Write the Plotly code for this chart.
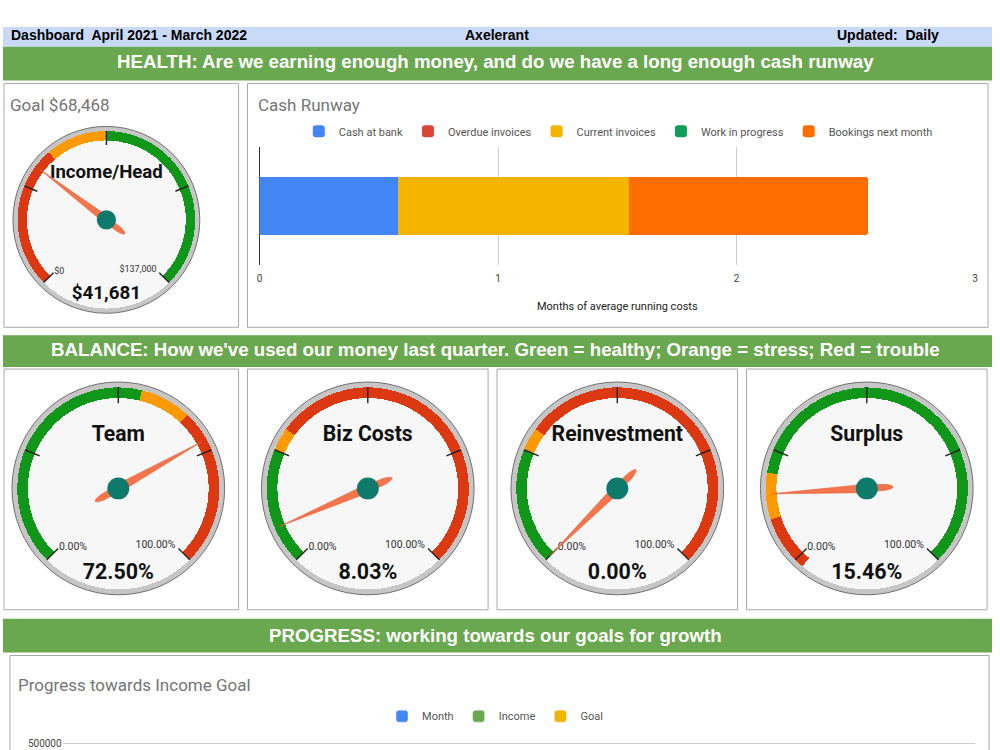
import plotly.graph_objects as go

# ---------------- data ----------------
header_left = "Dashboard\u00a0 April 2021 - March 2022"
header_mid = "Axelerant"
header_right = "Updated:\u00a0 Daily"
banner_titles = [
    "HEALTH: Are we earning enough money, and do we have a long enough cash runway",
    "BALANCE: How we've used our money last quarter. Green = healthy; Orange = stress; Red = trouble",
    "PROGRESS: working towards our goals for growth",
]

# Income / Head gauge
income_goal = 68468
income_value = 41681
income_min = 0
income_max = 137000
income_red = [0, 48000]
income_yellow = [48000, 68468]
income_green = [68468, 137000]

# Balance gauges (percent)
gauge_names = ["Team", "Biz Costs", "Reinvestment", "Surplus"]
gauge_values = [72.50, 8.03, 0.00, 15.46]
gauge_min = 0
gauge_max = 100
gauge_green = [[0, 55], [0, 25], [0, 25], [20, 100]]
gauge_yellow = [[55, 66], [25, 30], [25, 30], [10, 20]]
gauge_red = [[66, 100], [30, 100], [30, 100], [-2, 10]]

# Cash runway (months of average running costs)
runway_series = ["Cash at bank", "Overdue invoices", "Current invoices",
                 "Work in progress", "Bookings next month"]
runway_values = [0.58, 0.0, 0.97, 0.0, 1.00]
runway_colors = ["#4285f4", "#db4437", "#f4b400", "#0f9d58", "#ff6d00"]
runway_ticks = [0, 1, 2, 3]

# Progress towards income goal (only the header of this chart is visible,
# so its series carry no visible points)
progress_series = ["Month", "Income", "Goal"]
progress_colors = ["#4285f4", "#6aa84f", "#f1b400"]
progress_x = [None]
progress_y = [None]
progress_ticks = [500000]

# ---------------- styles ----------------
W, H = 1000, 750
GREEN_BAND = "#109618"
YELLOW_BAND = "#ff9900"
RED_BAND = "#dc3912"
FONT = "Roboto, Arial, sans-serif"
ARIAL = "Liberation Sans, Arial, sans-serif"


def py(y):
    return (H - y) / H


def px(x):
    return x / W


fig = go.Figure()
shapes = []
annotations = []

# header band and banners
shapes.append(dict(type="rect", xref="paper", yref="paper", x0=0, x1=px(995),
                   y0=py(43), y1=py(23), fillcolor="#c9daf8", line_width=0, layer="below"))
for (y0, y1) in [(43, 77), (333, 365), (618, 652)]:
    shapes.append(dict(type="rect", xref="paper", yref="paper", x0=0, x1=px(995),
                       y0=py(y1), y1=py(y0), fillcolor="#6aa84f", line_width=0, layer="below"))

# panels
panels = [(1, 80, 237, 325), (246, 80, 991, 325),
          (1, 367, 237, 609), (246, 367, 488, 609), (497, 367, 739, 609), (748, 367, 990, 609),
          (7, 655, 992, 760)]
for (x0, y0, x1, y1) in panels:
    shapes.append(dict(type="rect", xref="paper", yref="paper", x0=px(x0), x1=px(x1),
                       y0=py(y1), y1=py(y0), fillcolor="white",
                       line=dict(color="#a8a8a8", width=1), layer="below"))

annotations += [
    dict(text=header_left, x=px(6), y=py(31), xanchor="left"),
    dict(text=header_mid, x=px(497), y=py(31), xanchor="center"),
    dict(text=header_right, x=px(944), y=py(31), xanchor="right"),
]
for a in annotations:
    a.update(xref="paper", yref="paper", yanchor="middle", showarrow=False,
             font=dict(family=ARIAL, size=14, color="#000", weight="bold"))

for t, y in zip(banner_titles, [58, 347.5, 634.5]):
    annotations.append(dict(text=t, x=px(495), y=py(y), xref="paper", yref="paper",
                            xanchor="center", yanchor="middle", showarrow=False,
                            font=dict(family=ARIAL, size=18.7, color="white", weight="bold")))

# panel titles
for t, x, y in [(f"Goal ${income_goal:,}", 5, 102), ("Cash Runway", 255, 102),
                ("Progress towards Income Goal", 13, 685)]:
    annotations.append(dict(text=t, x=px(x), y=py(y), xref="paper", yref="paper",
                            xanchor="left", yanchor="middle", showarrow=False,
                            font=dict(family=FONT, size=17, color="#757575")))


# ---------------- gauges ----------------
def add_gauge(pname, cx, cy, R, vmin, vmax, green, yellow, red, value,
              name, value_text, min_text, max_text, lab_size):
    def th(v):
        return (v - vmin) / (vmax - vmin) * 270.0

    # rim
    fig.add_trace(go.Barpolar(r=[0.05], base=[0.95], theta=[180], width=[360],
                              marker=dict(color="#c6c6c6", line_width=0),
                              subplot=pname, showlegend=False, hoverinfo="skip"))
    # coloured bands
    thetas, widths, colors = [], [], []
    for rng, col in [(green, GREEN_BAND), (yellow, YELLOW_BAND), (red, RED_BAND)]:
        a, b = th(rng[0]), th(rng[1])
        thetas.append((a + b) / 2)
        widths.append(b - a)
        colors.append(col)
    fig.add_trace(go.Barpolar(r=[0.10] * 3, base=[0.85] * 3, theta=thetas, width=widths,
                              marker=dict(color=colors, line_width=0),
                              subplot=pname, showlegend=False, hoverinfo="skip"))
    # major ticks
    rr, tt = [], []
    for k in range(5):
        v = vmin + (vmax - vmin) * k / 4
        rr += [0.80, 0.95, None]
        tt += [th(v), th(v), None]
    fig.add_trace(go.Scatterpolar(r=rr, theta=tt, mode="lines",
                                  line=dict(color="#222", width=1.4),
                                  subplot=pname, showlegend=False, hoverinfo="skip"))
    # labels
    fig.add_trace(go.Scatterpolar(r=[0.79], theta=[0], mode="text", text=[min_text],
                                  textposition="middle right",
                                  textfont=dict(family=FONT, size=lab_size, color="#333"),
                                  subplot=pname, showlegend=False, hoverinfo="skip"))
    fig.add_trace(go.Scatterpolar(r=[0.76], theta=[270], mode="text", text=[max_text],
                                  textposition="middle left",
                                  textfont=dict(family=FONT, size=lab_size, color="#333"),
                                  subplot=pname, showlegend=False, hoverinfo="skip"))
    fig.add_trace(go.Scatterpolar(r=[0.50], theta=[135], mode="text", text=[name],
                                  textposition="middle center",
                                  textfont=dict(family=FONT, size=0.198 * R, color="#111",
                                                weight="bold"),
                                  subplot=pname, showlegend=False, hoverinfo="skip"))
    fig.add_trace(go.Scatterpolar(r=[0.80], theta=[315], mode="text", text=[value_text],
                                  textposition="middle center",
                                  textfont=dict(family=FONT, size=0.20 * R, color="#111",
                                                weight="bold"),
                                  subplot=pname, showlegend=False, hoverinfo="skip"))
    # needle
    t = th(value)
    shape = [(0.90, 0), (0.04, 90), (0.10, 162), (0.18, 171), (0.23, 176), (0.25, 180),
             (0.23, 184), (0.18, 189), (0.10, 198), (0.04, 270), (0.90, 0)]
    fig.add_trace(go.Scatterpolar(r=[p[0] for p in shape], theta=[t + p[1] for p in shape],
                                  mode="lines", fill="toself", fillcolor="#f4754c",
                                  line=dict(color="#e0603a", width=0.6),
                                  subplot=pname, showlegend=False, hoverinfo="skip"))
    # hub
    fig.add_trace(go.Scatterpolar(r=[0], theta=[0], mode="markers",
                                  marker=dict(size=0.205 * R, color="#0d7a6c", line_width=0),
                                  subplot=pname, showlegend=False, hoverinfo="skip"))

    fig.layout[pname] = dict(
        domain=dict(x=[px(cx - R), px(cx + R)], y=[py(cy + R), py(cy - R)]),
        bgcolor="#f7f7f7", barmode="overlay",
        radialaxis=dict(visible=False, range=[0, 1]),
        angularaxis=dict(rotation=225, direction="clockwise", showgrid=False,
                         showticklabels=False, ticks="", showline=True,
                         linecolor="#6f6f6f", linewidth=1),
    )


add_gauge("polar", 104, 217, 94, income_min, income_max, income_green, income_yellow,
          income_red, income_value, "Income/Head", f"${income_value:,}",
          f"${income_min:,}", f"${income_max:,}", 9)

centers = [116, 367, 618, 869]
for i in range(4):
    add_gauge(f"polar{i + 2}", centers[i], 487, 107, gauge_min, gauge_max,
              gauge_green[i], gauge_yellow[i], gauge_red[i], gauge_values[i],
              gauge_names[i], f"{gauge_values[i]:.2f}%",
              f"{gauge_min:.2f}%", f"{gauge_max:.2f}%", 10.5)

# ---------------- cash runway ----------------
for name, val, col in zip(runway_series, runway_values, runway_colors):
    fig.add_trace(go.Bar(y=["Runway"], x=[val], orientation="h", name=name,
                         marker=dict(color=col, line_width=0),
                         xaxis="x", yaxis="y", legend="legend"))

# ---------------- progress ----------------
for name, col in zip(progress_series, progress_colors):
    fig.add_trace(go.Bar(x=progress_x, y=progress_y, name=name, marker_color=col,
                         xaxis="x2", yaxis="y2", legend="legend2"))

fig.update_layout(
    width=W, height=H, margin=dict(l=0, r=0, t=0, b=0),
    paper_bgcolor="white", plot_bgcolor="rgba(0,0,0,0)",
    barmode="stack", bargap=0.5, barcornerradius=2,
    shapes=shapes, annotations=annotations,
    xaxis=dict(domain=[px(258), px(978)], range=[0, 3], tickvals=runway_ticks,
               showgrid=True, gridcolor="#cccccc", zeroline=True, zerolinecolor="#333",
               zerolinewidth=1, showline=False, ticks="", ticklabelstandoff=6,
               tickfont=dict(family=FONT, size=10, color="#444"),
               title=dict(text="Months of average running costs", standoff=19,
                          font=dict(family=FONT, size=11, color="#222")),
               anchor="y", fixedrange=True),
    yaxis=dict(domain=[py(262), py(144)], showticklabels=False, showgrid=False,
               zeroline=False, ticks="", anchor="x", fixedrange=True),
    xaxis2=dict(domain=[px(60), px(978)], visible=False, anchor="y2"),
    yaxis2=dict(domain=[0, 9 / H], range=[0, 643000], tickvals=progress_ticks,
                tickformat="d", showgrid=True, gridcolor="#cccccc", zeroline=False,
                ticks="", tickfont=dict(family=FONT, size=10, color="#444"), anchor="x2"),
    legend=dict(orientation="h", x=px(619), xanchor="center", y=py(128), yanchor="middle",
                font=dict(family=FONT, size=11, color="#555"), bgcolor="rgba(0,0,0,0)",
                itemwidth=30, traceorder="normal"),
    legend2=dict(orientation="h", x=px(495), xanchor="center", y=py(716), yanchor="middle",
                 font=dict(family=FONT, size=11, color="#555"), bgcolor="rgba(0,0,0,0)",
                 itemwidth=30, traceorder="normal"),
    showlegend=True,
)

fig.write_html("out.html")
